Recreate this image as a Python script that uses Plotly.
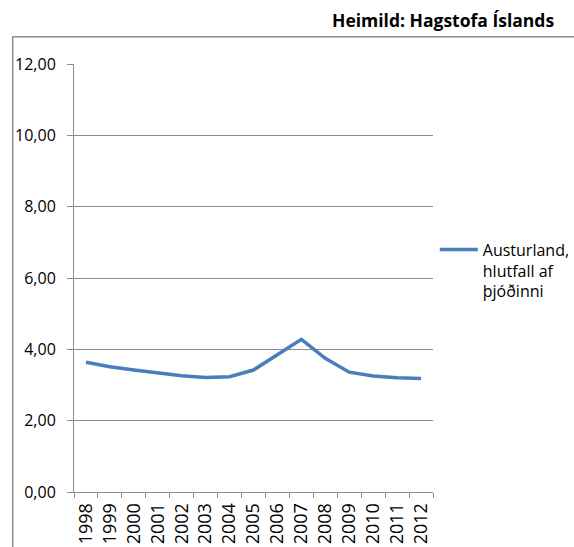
import plotly.graph_objects as go

years = ["1998", "1999", "2000", "2001", "2002", "2003", "2004", "2005",
         "2006", "2007", "2008", "2009", "2010", "2011", "2012"]
values = [3.64, 3.51, 3.42, 3.33, 3.26, 3.21, 3.23, 3.42,
          3.84, 4.28, 3.75, 3.36, 3.25, 3.20, 3.18]
series_name = "Austurland,<br>hlutfall af<br>þjóðinni"
source_text = "Heimild: Hagstofa Íslands"

FONT = "Open Sans"
GRID = "#8c8c8c"

fig = go.Figure()
fig.add_trace(go.Scatter(
    x=years, y=values, mode="lines", name=series_name,
    line=dict(color="#4A7EBB", width=3.5),
    showlegend=True,
))

fig.update_layout(
    width=574, height=547,
    margin=dict(l=74, r=141, t=64, b=55, autoexpand=False),
    paper_bgcolor="white", plot_bgcolor="white",
    separators=",.",
    font=dict(family=FONT, size=16, color="#000000"),
    showlegend=True,
    legend=dict(x=1.005, y=0.606, xanchor="left", yanchor="top",
                valign="top", font=dict(family=FONT, size=16),
                bgcolor="rgba(0,0,0,0)", itemwidth=38),
    xaxis=dict(type="category", range=[-0.5, 14.5], tickson="boundaries",
               ticks="outside", ticklen=5, tickcolor=GRID, tickwidth=1,
               showline=True, linecolor=GRID, linewidth=1, showgrid=False,
               tickangle=-90, tickfont=dict(family=FONT, size=18),
               ticklabelstandoff=3, automargin=False, zeroline=False),
    yaxis=dict(range=[0, 12], dtick=2, tick0=0, tickformat=".2f",
               ticks="outside", ticklen=6, tickcolor=GRID, tickwidth=1,
               showline=True, linecolor=GRID, linewidth=1,
               showgrid=True, gridcolor=GRID, gridwidth=1, zeroline=False,
               ticklabelstandoff=8, automargin=False,
               tickfont=dict(family=FONT, size=16)),
)

# outer frame lines (chart border, partially visible)
fig.add_shape(type="line", xref="paper", yref="paper",
              x0=-0.1708, x1=1.40, y0=1.0638, y1=1.0638,
              line=dict(color=GRID, width=1.5))
fig.add_shape(type="line", xref="paper", yref="paper",
              x0=-0.1708, x1=-0.1708, y0=1.0638, y1=-0.14,
              line=dict(color=GRID, width=1.5))

fig.add_annotation(text="<b>" + source_text + "</b>", xref="paper", yref="paper",
                   x=1.028, y=1.102, xanchor="center", yanchor="middle",
                   showarrow=False, font=dict(family=FONT, size=17.5, color="#000000"))

fig.write_html("out.html",
               config={"displayModeBar": False},
               post_script="document.body.style.margin='0px';"
                           "document.body.style.overflow='hidden';")
